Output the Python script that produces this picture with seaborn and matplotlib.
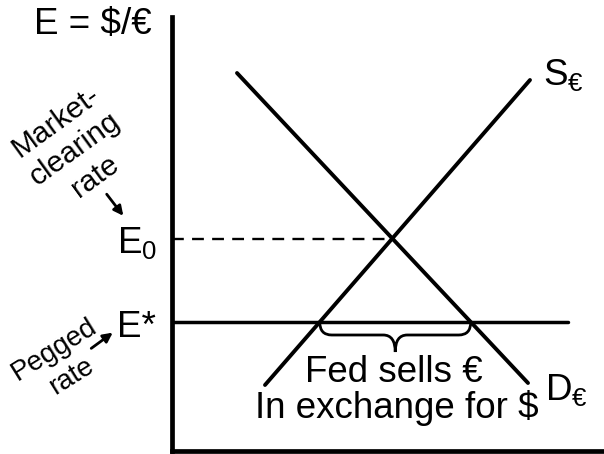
import numpy as np
import pandas as pd
import seaborn as sns
import matplotlib.pyplot as plt
from matplotlib.path import Path
from matplotlib.patches import PathPatch

sns.set_style("white")
plt.rcParams["font.family"] = ["Liberation Sans", "DejaVu Sans"]
plt.rcParams["mathtext.fontset"] = "custom"
plt.rcParams["mathtext.rm"] = "Liberation Sans"
plt.rcParams["mathtext.it"] = "Liberation Sans"

# curve end points (quantity, exchange rate), y measured upward
supply_q = [265, 530]
supply_e = [69, 374]
demand_q = [237, 528]
demand_e = [381, 71]
E0 = 215      # market-clearing rate
E_peg = 132   # pegged rate
peg_end = 568

def x_at(q, e, level):
    # x of a straight line at a given rate level
    return q[0] + (level - e[0]) * (q[1] - q[0]) / (e[1] - e[0])

x_eq = x_at(supply_q, supply_e, E0)
x_left = x_at(supply_q, supply_e, E_peg)
x_right = x_at(demand_q, demand_e, E_peg)

lines = pd.concat([
    pd.DataFrame({"q": supply_q, "e": supply_e, "curve": "S"}),
    pd.DataFrame({"q": demand_q, "e": demand_e, "curve": "D"}),
])

fig = plt.figure(figsize=(6.04, 4.54), dpi=100)
ax = fig.add_axes([171.5 / 604, 3 / 454, 1 - 171.5 / 604, 1 - 20 / 454])
ax.set_xlim(171.5, 604)
ax.set_ylim(3, 437)

sns.lineplot(data=lines, x="q", y="e", units="curve", estimator=None,
             color="black", lw=2.8, ax=ax, legend=False)
ax.plot([171.5, x_eq], [E0, E0], color="black", lw=1.7, ls=(0, (5, 3.5)))
ax.plot([171.5, peg_end], [E_peg, E_peg], color="black", lw=2.5)

# brace under the pegged-rate line
r, arm, tip = 12, 13, 30
xm = (x_left + x_right) / 2
verts = [(x_left, E_peg), (x_left, E_peg - arm), (x_left + r, E_peg - arm),
         (xm - r, E_peg - arm), (xm, E_peg - arm), (xm, E_peg - tip),
         (xm, E_peg - arm), (xm + r, E_peg - arm),
         (x_right - r, E_peg - arm), (x_right, E_peg - arm), (x_right, E_peg)]
codes = [Path.MOVETO, Path.CURVE3, Path.CURVE3, Path.LINETO, Path.CURVE3, Path.CURVE3,
         Path.CURVE3, Path.CURVE3, Path.LINETO, Path.CURVE3, Path.CURVE3]
ax.add_patch(PathPatch(Path(verts, codes), fill=False, lw=2.0, color="black"))

sns.despine(ax=ax)
for s in ["left", "bottom"]:
    ax.spines[s].set_linewidth(3.4)
    ax.spines[s].set_color("black")
ax.set_xticks([])
ax.set_yticks([])
ax.set_xlabel("")
ax.set_ylabel("")

fs = 26.5
kw = dict(color="black", clip_on=False)
ax.text(93, 429, "E = $/€", fontsize=fs, ha="center", va="center", **kw)
ax.text(117, 201, r"E$_\mathrm{0}$", fontsize=fs, ha="left", va="baseline", **kw)
ax.text(117, 117, "E*", fontsize=fs, ha="left", va="baseline", **kw)
ax.text(543, 369, r"S$_\mathrm{€}$", fontsize=fs, ha="left", va="baseline", **kw)
ax.text(545, 54, r"D$_\mathrm{€}$", fontsize=fs, ha="left", va="baseline", **kw)
ax.text(394, 72, "Fed sells €", fontsize=fs, ha="center", va="baseline", **kw)
ax.text(397, 36, "In exchange for $", fontsize=fs, ha="center", va="baseline", **kw)

ax.text(75, 305, "Market-\nclearing\nrate", fontsize=21.5, rotation=36,
        ha="center", va="center", multialignment="center", linespacing=1.25, **kw)
ax.text(63, 91, "Pegged\nrate", fontsize=20, rotation=32,
        ha="center", va="center", multialignment="center", linespacing=1.25, **kw)

ax.annotate("", xy=(125, 236), xytext=(105, 262), annotation_clip=False,
            arrowprops=dict(arrowstyle="-|>", color="black", lw=2, mutation_scale=14))
ax.annotate("", xy=(115, 123), xytext=(89, 104), annotation_clip=False,
            arrowprops=dict(arrowstyle="-|>", color="black", lw=2, mutation_scale=14))

fig.savefig("out.png", dpi=100)
